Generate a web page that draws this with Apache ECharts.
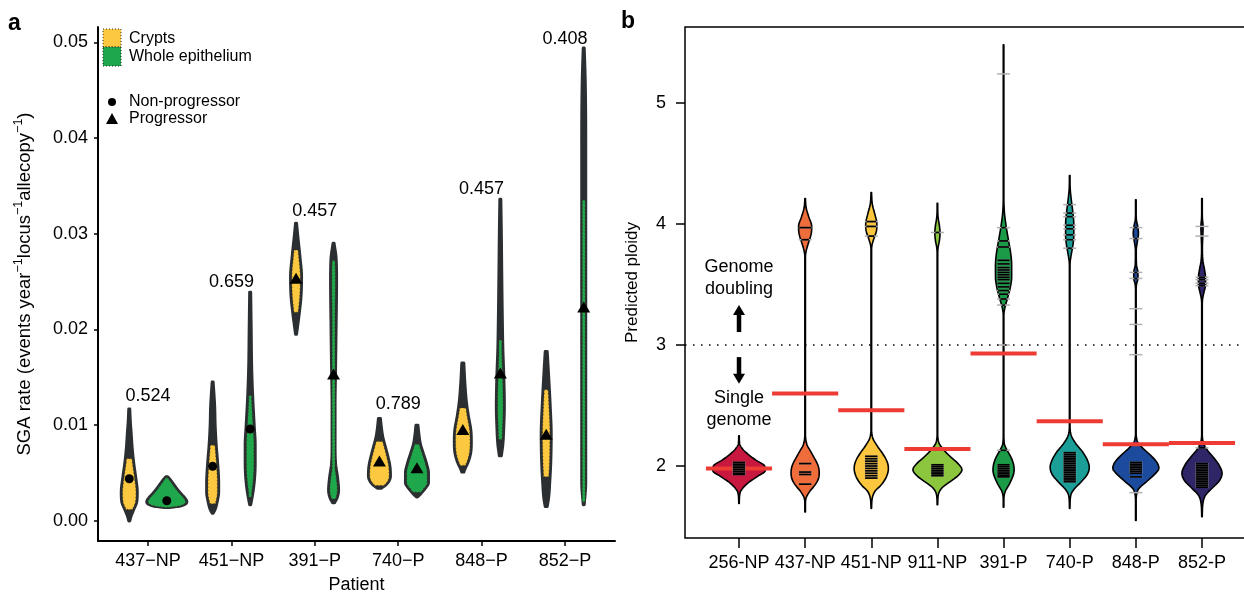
<!DOCTYPE html>
<html><head><meta charset="utf-8">
<script src="https://cdn.jsdelivr.net/npm/echarts@6/dist/echarts.min.js"></script>
<style>html,body{margin:0;padding:0;background:#fff}#c{width:1244px;height:595px}</style>
</head><body><div id="c"></div>
<script>
// ================= Panel a data =================
const patientsA = ['437−NP','451−NP','391−P','740−P','848−P','852−P'];
const progressorA = [false,false,true,true,true,true];
const pValueLabels = ['0.524','0.659','0.457','0.789','0.457','0.408'];
const pValueY = [0.0130,0.0250,0.0324,0.0122,0.0347,0.0503];
const yTicksA = [0,0.01,0.02,0.03,0.04,0.05];
const cryptsMedian = [0.0044,0.0057,0.0253,0.0062,0.0095,0.0090];
const wholeMedian  = [0.0021,0.0096,0.0153,0.0055,0.0154,0.0223];
const cryptsInner = [[0.0065,0.0012],[0.0079,0.0018],[0.0283,0.0218],[0.0083,0.0037],[0.0118,0.0058],[0.0137,0.0046]];
const wholeInner  = [[0.0045,0.0014],[0.0131,0.0025],[0.0272,0.0023],[0.0080,0.0030],[0.0189,0.0085],[0.0335,0.0020]];
// density profiles: [rate, relative half-width]
const crypts437 = [[0.0117,2],[0.0105,2.5],[0.009,3.5],[0.0075,4.5],[0.006,6],[0.0045,8],[0.003,9.5],[0.002,9],[0.0012,6],[0.0004,3],[0.0,2]];
const crypts451 = [[0.0145,2],[0.012,3.5],[0.010,4],[0.008,5],[0.006,6.5],[0.004,7.5],[0.003,7.5],[0.002,6],[0.0012,4],[0.0008,2]];
const crypts391 = [[0.0311,2],[0.0295,3.5],[0.0275,5.5],[0.0255,7],[0.0235,6.5],[0.0215,4.5],[0.0203,3],[0.0195,2]];
const crypts740 = [[0.0107,2.5],[0.0097,3.5],[0.0087,5],[0.0077,7.5],[0.0067,10],[0.0057,12],[0.0047,12.5],[0.0040,10],[0.0036,6],[0.0034,3]];
const crypts848 = [[0.0165,2.5],[0.0145,3.5],[0.0125,5],[0.011,7],[0.0095,9.5],[0.0083,10],[0.0072,9.5],[0.0062,7],[0.0055,4],[0.0051,2.5]];
const crypts852 = [[0.0177,2.5],[0.015,4],[0.012,5.5],[0.009,6.5],[0.006,6],[0.004,5],[0.0025,4],[0.0015,2.5]];
const whole437 = [[0.0046,2.5],[0.0043,5],[0.0038,8.5],[0.0033,12],[0.0028,16],[0.0024,19.5],[0.0020,21.5],[0.0017,19],[0.0015,12],[0.0014,4]];
const whole451 = [[0.0239,2],[0.020,2.5],[0.016,3],[0.013,4],[0.010,5.5],[0.008,6.5],[0.006,6.5],[0.004,5.5],[0.0025,3.5],[0.0017,2]];
const whole391 = [[0.029,2],[0.0275,4],[0.025,4.5],[0.020,4],[0.016,3.5],[0.012,3],[0.008,3],[0.006,3.5],[0.0045,5.5],[0.0032,6.5],[0.0024,5],[0.0019,2.5]];
const whole740 = [[0.0100,2.5],[0.0090,3.5],[0.0080,5],[0.0070,8],[0.0060,11],[0.0050,13],[0.0040,13],[0.0033,9],[0.0027,4],[0.0025,2]];
const whole848 = [[0.0336,2],[0.030,2.5],[0.025,3],[0.021,3.5],[0.018,4],[0.015,5],[0.012,5.5],[0.010,5],[0.008,4],[0.0068,2.5]];
const whole852 = [[0.0494,2],[0.046,3],[0.040,3.5],[0.030,3.5],[0.020,3.5],[0.010,3.5],[0.004,3.5],[0.0017,2]];
const cryptsProfile = [crypts437,crypts451,crypts391,crypts740,crypts848,crypts852];
const wholeProfile  = [whole437,whole451,whole391,whole740,whole848,whole852];

// ================= Panel b data =================
const patientsB = ['256-NP','437-NP','451-NP','911-NP','391-P','740-P','848-P','852-P'];
const colorsB = ['#c8183f','#ef6c3b','#fcc63f','#8cc63f','#1b9b48','#1a9e97','#1c4a9c','#2f2667'];
const thresholdB = [1.98,2.60,2.46,2.14,2.93,2.37,2.18,2.19];
const yTicksB = [2,3,4,5];
const ploidy256 = [[2.25,0.6],[2.18,1.2],[2.14,4],[2.10,9],[2.05,17],[2.00,26],[1.96,26.5],[1.92,20],[1.87,11],[1.82,4.5],[1.78,1.5],[1.69,0.6]];
const ploidy437 = [[4.21,0.6],[4.13,1.5],[4.06,4],[3.98,7],[3.92,6.5],[3.85,4],[3.78,1.5],[3.72,0.6],[2.3,0.6],[2.18,2],[2.12,6],[2.06,10],[2.00,13.5],[1.94,14.5],[1.89,13.5],[1.84,10],[1.79,5],[1.74,1.5],[1.68,0.6],[1.62,0.6]];
const ploidy451 = [[4.26,0.6],[4.16,1.5],[4.08,4],[4.00,6],[3.94,5.5],[3.88,3],[3.82,1],[3.76,0.6],[2.35,0.6],[2.24,1.5],[2.17,6],[2.10,12],[2.03,16.5],[1.98,17.5],[1.92,16],[1.85,11],[1.79,4],[1.74,1.5],[1.65,0.6]];
const ploidy911 = [[4.17,0.6],[4.06,1],[3.98,2.5],[3.93,3],[3.87,2.5],[3.80,1],[3.74,0.6],[2.3,0.6],[2.20,1.5],[2.14,6],[2.08,13],[2.02,21],[1.97,25],[1.92,21],[1.87,13],[1.82,5],[1.77,1.5],[1.68,0.6]];
const ploidy391 = [[5.48,0.6],[4.3,0.6],[4.10,1.2],[3.98,3],[3.88,5],[3.76,7.5],[3.66,8.5],[3.56,8.5],[3.47,7],[3.39,4.5],[3.32,2],[3.24,0.6],[2.3,0.6],[2.18,1.2],[2.13,4],[2.07,8],[2.01,10.5],[1.96,11],[1.90,9],[1.84,5.5],[1.79,2],[1.74,0.8],[1.66,0.6]];
const ploidy740 = [[4.40,0.6],[4.28,1],[4.20,2],[4.10,3.5],[4.00,4.5],[3.90,4.5],[3.82,3.5],[3.75,2],[3.68,0.8],[3.60,0.6],[2.35,0.6],[2.25,2],[2.18,7],[2.12,13],[2.05,18],[1.99,20],[1.93,18],[1.87,12],[1.81,5],[1.76,1.5],[1.65,0.6]];
const ploidy848 = [[4.20,0.6],[4.05,0.8],[3.97,2.5],[3.92,3],[3.86,2],[3.78,0.8],[3.66,1],[3.60,2.5],[3.55,2.5],[3.50,1],[3.40,0.6],[2.30,0.6],[2.20,2],[2.15,7],[2.09,15],[2.03,21.5],[1.98,23.5],[1.93,19],[1.87,11],[1.82,4],[1.78,1.5],[1.68,0.6],[1.55,0.6]];
const ploidy852 = [[4.21,0.6],[4.05,0.8],[3.98,1.5],[3.90,1.2],[3.80,0.8],[3.70,1.2],[3.62,3],[3.55,4],[3.50,4],[3.44,2.5],[3.38,1],[3.30,0.6],[2.30,0.6],[2.20,1.5],[2.14,5],[2.07,12],[2.00,18],[1.94,20.5],[1.88,18],[1.82,11],[1.76,4],[1.70,1.5],[1.58,0.6]];
const ploidyProfile = [ploidy256,ploidy437,ploidy451,ploidy911,ploidy391,ploidy740,ploidy848,ploidy852];
const samples256 = [2.03,2.015,2.00,1.985,1.97,1.955,1.94,1.93];
const samples437 = [3.97,3.87,2.02,1.95,1.93,1.85];
const samples451 = [4.02,3.98,3.90,2.08,2.06,2.04,2.02,2.00,1.98,1.96,1.94,1.92,1.90];
const samples911 = [3.93,2.01,1.995,1.98,1.965,1.95,1.935,1.92];
const samples391 = [5.24,3.97,3.86,3.81,3.70,3.67,3.64,3.62,3.60,3.58,3.56,3.54,3.51,3.48,3.45,3.42,3.38,3.33,3.00,2.13,2.01,1.995,1.98,1.965,1.95,1.935,1.92,1.91];
const samples740 = [4.16,4.09,4.06,3.99,3.96,3.91,3.87,3.80,2.11,2.095,2.08,2.065,2.05,2.035,2.02,2.005,1.99,1.975,1.96,1.945,1.93,1.915,1.90,1.885,1.87];
const samples848 = [3.97,3.88,3.60,3.55,3.30,3.17,2.92,2.03,2.015,2.00,1.985,1.97,1.955,1.94,1.91,1.78];
const samples852 = [3.98,3.90,3.56,3.54,3.51,3.49,2.15,2.02,2.005,1.99,1.975,1.96,1.945,1.93,1.915,1.90,1.885,1.87,1.855,1.84,1.825];
const ploidySamples = [samples256,samples437,samples451,samples911,samples391,samples740,samples848,samples852];

// ================= helpers =================
const FONT = "'Liberation Sans', Arial, sans-serif";
function makeMono(prof){
  const pts = prof.slice().sort((a,b)=>a[0]-b[0]);
  const n=pts.length, xs=pts.map(p=>p[0]), ys=pts.map(p=>p[1]);
  const dk=[], m=new Array(n);
  for(let i=0;i<n-1;i++) dk.push((ys[i+1]-ys[i])/(xs[i+1]-xs[i]));
  m[0]=dk[0]; m[n-1]=dk[n-2];
  for(let i=1;i<n-1;i++) m[i]=(dk[i-1]*dk[i]<=0)?0:(dk[i-1]+dk[i])/2;
  for(let i=0;i<n-1;i++){
    if(dk[i]===0){m[i]=0;m[i+1]=0;continue;}
    const a=m[i]/dk[i], b=m[i+1]/dk[i], s=a*a+b*b;
    if(s>9){const t=3/Math.sqrt(s); m[i]=t*a*dk[i]; m[i+1]=t*b*dk[i];}
  }
  return v=>{
    if(v<=xs[0]) return ys[0]; if(v>=xs[n-1]) return ys[n-1];
    let i=0; while(i<n-2 && v>xs[i+1]) i++;
    const h=xs[i+1]-xs[i], t=(v-xs[i])/h, t2=t*t, t3=t2*t;
    return (2*t3-3*t2+1)*ys[i]+(t3-2*t2+t)*h*m[i]+(-2*t3+3*t2)*ys[i+1]+(t3-t2)*h*m[i+1];
  };
}
const fCrypts = cryptsProfile.map(makeMono);
const fWhole = wholeProfile.map(makeMono);
const fPloidy = ploidyProfile.map(makeMono);

function violinPts(api, xc, f, vTop, vBot, shrink, minW, refPx){
  const scale = api.size([1,0])[0]/refPx;
  const N=140, right=[], left=[];
  for(let k=0;k<=N;k++){
    const v=vTop+(vBot-vTop)*k/N;
    const p=api.coord([xc,v]);
    const hw=Math.max(f(v)-shrink,minW)*scale;
    right.push([p[0]+hw,p[1]]); left.push([p[0]-hw,p[1]]);
  }
  return right.concat(left.reverse());
}
const REF_A = 83.4, REF_B = 66.14;

function renderViolinA(params, api){
  const xc=api.value(0), med=api.value(1), i=api.value(2), g=api.value(3);
  const prof = g===0?cryptsProfile[i]:wholeProfile[i];
  const f = g===0?fCrypts[i]:fWhole[i];
  const inner = g===0?cryptsInner[i]:wholeInner[i];
  const fill = g===0?'#fbc83f':'#1fa84b';
  const children=[];
  children.push({type:'polygon',shape:{points:violinPts(api,xc,f,prof[0][0],prof[prof.length-1][0],1.5,0.5,REF_A)},
    style:{fill:'#2b2f32',stroke:'#2b2f32',lineWidth:3,lineJoin:'round'}});
  children.push({type:'polygon',shape:{points:violinPts(api,xc,f,inner[0],inner[1],2.8,1.4,REF_A)},
    style:{fill:fill,stroke:'#3a3320',lineWidth:1,lineDash:[1,2.5]}});
  const p=api.coord([xc,med]);
  if(progressorA[i]){
    children.push({type:'polygon',shape:{points:[[p[0],p[1]-6],[p[0]-6.5,p[1]+5],[p[0]+6.5,p[1]+5]]},style:{fill:'#000'}});
  } else {
    children.push({type:'circle',shape:{cx:p[0],cy:p[1],r:4.5},style:{fill:'#000'}});
  }
  return {type:'group',children};
}
function renderPText(params, api){
  const p=api.coord([api.value(0),api.value(1)]);
  return {type:'text',x:p[0],y:p[1],style:{text:pValueLabels[api.value(2)],font:'18px '+FONT,fill:'#000',align:'center',verticalAlign:'middle'}};
}
function renderViolinB(params, api){
  const i=api.value(0)-1, xc=api.value(0);
  const prof=ploidyProfile[i];
  return {type:'polygon',shape:{points:violinPts(api,xc,fPloidy[i],prof[0][0],prof[prof.length-1][0],0.4,0.3,REF_B)},
    style:{fill:colorsB[i],stroke:'#000',lineWidth:1.6,lineJoin:'round'}};
}
function renderRed(params, api){
  const a=api.coord([api.value(0)-0.5,api.value(1)]), b=api.coord([api.value(0)+0.5,api.value(1)]);
  return {type:'line',shape:{x1:a[0],y1:a[1],x2:b[0],y2:b[1]},style:{stroke:'#ee3b34',lineWidth:4}};
}
function renderBeans(params, api){
  const i=api.value(0)-1, xc=api.value(0);
  const scale=api.size([1,0])[0]/REF_B;
  const children=[];
  ploidySamples[i].forEach(s=>{
    const p=api.coord([xc,s]);
    children.push({type:'line',shape:{x1:p[0]-6.5*scale,y1:p[1],x2:p[0]+6.5*scale,y2:p[1]},style:{stroke:'#b0b0b0',lineWidth:1.5}});
  });
  ploidySamples[i].forEach(s=>{
    const d=fPloidy[i](s)-1.0;
    if(d>1.2){
      const hw=Math.min(6.2,d)*scale, p=api.coord([xc,s]);
      children.push({type:'line',shape:{x1:p[0]-hw,y1:p[1],x2:p[0]+hw,y2:p[1]},style:{stroke:'#000',lineWidth:1.7}});
    }
  });
  return {type:'group',children};
}
function renderAnnot(params, api){
  const c1=api.coord([1,3.55]), c2=api.coord([1,2.47]);
  const u0=api.coord([1,3.107]), u1=api.coord([1,3.33]);
  const d0=api.coord([1,2.90]), d1=api.coord([1,2.68]);
  const st={font:'18px '+FONT,fill:'#000',align:'center',verticalAlign:'middle',lineHeight:22};
  return {type:'group',children:[
    {type:'text',x:c1[0],y:c1[1],style:Object.assign({text:'Genome\ndoubling'},st)},
    {type:'text',x:c2[0],y:c2[1],style:Object.assign({text:'Single\ngenome'},st)},
    {type:'line',shape:{x1:u0[0],y1:u0[1],x2:u0[0],y2:u1[1]+9},style:{stroke:'#000',lineWidth:4.5}},
    {type:'polygon',shape:{points:[[u1[0],u1[1]],[u1[0]-6,u1[1]+10],[u1[0]+6,u1[1]+10]]},style:{fill:'#000'}},
    {type:'line',shape:{x1:d0[0],y1:d0[1],x2:d0[0],y2:d1[1]-9},style:{stroke:'#000',lineWidth:4.5}},
    {type:'polygon',shape:{points:[[d1[0],d1[1]],[d1[0]-6,d1[1]-10],[d1[0]+6,d1[1]-10]]},style:{fill:'#000'}}
  ]};
}

const violinDataA=[];
patientsA.forEach((p,i)=>{violinDataA.push([i+1-0.225,cryptsMedian[i],i,0]);violinDataA.push([i+1+0.225,wholeMedian[i],i,1]);});
const catIdxA = patientsA.map((p,i)=>i+1);
const catIdxB = patientsB.map((p,i)=>i+1);
const lab = {fontSize:18,color:'#000',fontFamily:FONT};

const option={
  animation:false,
  backgroundColor:'#fff',
  grid:[{left:98,top:27,width:517,height:514,outerBoundsMode:'none',containLabel:false},
        {left:685,top:27,width:565,height:511,outerBoundsMode:'none',containLabel:false,show:true,borderColor:'#000',borderWidth:1.5,backgroundColor:'transparent'}],
  xAxis:[
    {gridIndex:0,type:'value',min:0.4,max:6.6,splitLine:{show:false},
     axisLine:{show:true,onZero:false,lineStyle:{color:'#000',width:2}},
     axisTick:{show:true,customValues:catIdxA,length:5,lineStyle:{color:'#000',width:1.5}},
     axisLabel:Object.assign({customValues:catIdxA,margin:11,formatter:v=>patientsA[Math.round(v)-1]},lab),
     name:'Patient',nameLocation:'middle',nameGap:35,nameTextStyle:{fontSize:18,color:'#000',fontFamily:FONT}},
    {gridIndex:1,type:'value',min:0.1835,max:8.726,splitLine:{show:false},
     axisLine:{show:false,onZero:false},
     axisTick:{show:true,customValues:catIdxB,length:10,lineStyle:{color:'#000',width:1.5}},
     axisLabel:Object.assign({customValues:catIdxB,margin:16,formatter:v=>patientsB[Math.round(v)-1]},lab)}
  ],
  yAxis:[
    {gridIndex:0,type:'value',min:-0.0021,max:0.0516,splitLine:{show:false},
     axisLine:{show:true,onZero:false,lineStyle:{color:'#000',width:2}},
     axisTick:{show:true,customValues:yTicksA,length:4,lineStyle:{color:'#000',width:1.5}},
     axisLabel:Object.assign({customValues:yTicksA,margin:10,formatter:v=>v.toFixed(2)},lab),
     name:'{n|SGA rate (events year}{s|−1}{n|locus}{s|−1}{n|allecopy}{s|−1}{n|)}',
     nameLocation:'middle',nameRotate:90,nameGap:60,
     nameTextStyle:{rich:{n:{fontSize:18.5,fontFamily:FONT,color:'#000',lineHeight:26},s:{fontSize:12.5,fontFamily:FONT,color:'#000',lineHeight:13,verticalAlign:'top'}}}},
    {gridIndex:1,type:'value',min:1.405,max:5.628,splitLine:{show:false},
     axisLine:{show:false,onZero:false},
     axisTick:{show:true,customValues:yTicksB,length:9,lineStyle:{color:'#000',width:1.5}},
     axisLabel:Object.assign({customValues:yTicksB,margin:19,formatter:v=>String(v)},lab),
     name:'Predicted ploidy',nameLocation:'middle',nameRotate:90,nameGap:44,
     nameTextStyle:{fontSize:17,color:'#000',fontFamily:FONT}}
  ],
  series:[
    {type:'custom',xAxisIndex:0,yAxisIndex:0,renderItem:renderViolinA,data:violinDataA,z:2,clip:false},
    {type:'custom',xAxisIndex:0,yAxisIndex:0,renderItem:renderPText,data:pValueY.map((y,i)=>[i+1,y,i]),z:3,clip:false},
    {type:'custom',xAxisIndex:1,yAxisIndex:1,renderItem:renderViolinB,data:catIdxB.map(x=>[x]),z:2,clip:false,
     markLine:{silent:true,symbol:'none',label:{show:false},lineStyle:{color:'#000',width:1.5,type:[1.5,6.5]},data:[{yAxis:3}]}},
    {type:'custom',xAxisIndex:1,yAxisIndex:1,renderItem:renderRed,data:thresholdB.map((t,i)=>[i+1,t]),z:3,clip:false},
    {type:'custom',xAxisIndex:1,yAxisIndex:1,renderItem:renderBeans,data:catIdxB.map(x=>[x]),z:4,clip:false},
    {type:'custom',xAxisIndex:1,yAxisIndex:1,renderItem:renderAnnot,data:[[1,3]],z:4,clip:false}
  ],
  graphic:[
    {type:'text',left:8,top:12,style:{text:'a',font:'bold 23px '+FONT,fill:'#000'}},
    {type:'text',left:621,top:10,style:{text:'b',font:'bold 23px '+FONT,fill:'#000'}},
    {type:'rect',shape:{x:103,y:29,width:18,height:18},style:{fill:'#fbc83f',stroke:'#333',lineWidth:1,lineDash:[1,2]}},
    {type:'rect',shape:{x:103,y:47,width:18,height:19},style:{fill:'#1fa84b',stroke:'#222',lineWidth:1,lineDash:[1,2]}},
    {type:'text',x:129,y:39,style:{text:'Crypts',font:'16px '+FONT,fill:'#000',verticalAlign:'middle'}},
    {type:'text',x:129,y:57,style:{text:'Whole epithelium',font:'16px '+FONT,fill:'#000',verticalAlign:'middle'}},
    {type:'circle',shape:{cx:112,cy:102,r:4},style:{fill:'#000'}},
    {type:'polygon',shape:{points:[[112,113],[106,124],[118,124]]},style:{fill:'#000'}},
    {type:'text',x:129,y:102,style:{text:'Non-progressor',font:'16px '+FONT,fill:'#000',verticalAlign:'middle'}},
    {type:'text',x:129,y:119,style:{text:'Progressor',font:'16px '+FONT,fill:'#000',verticalAlign:'middle'}}
  ]
};
const chart=echarts.init(document.getElementById('c'),null,{renderer:'canvas'});
chart.setOption(option);
</script>
</body></html>
